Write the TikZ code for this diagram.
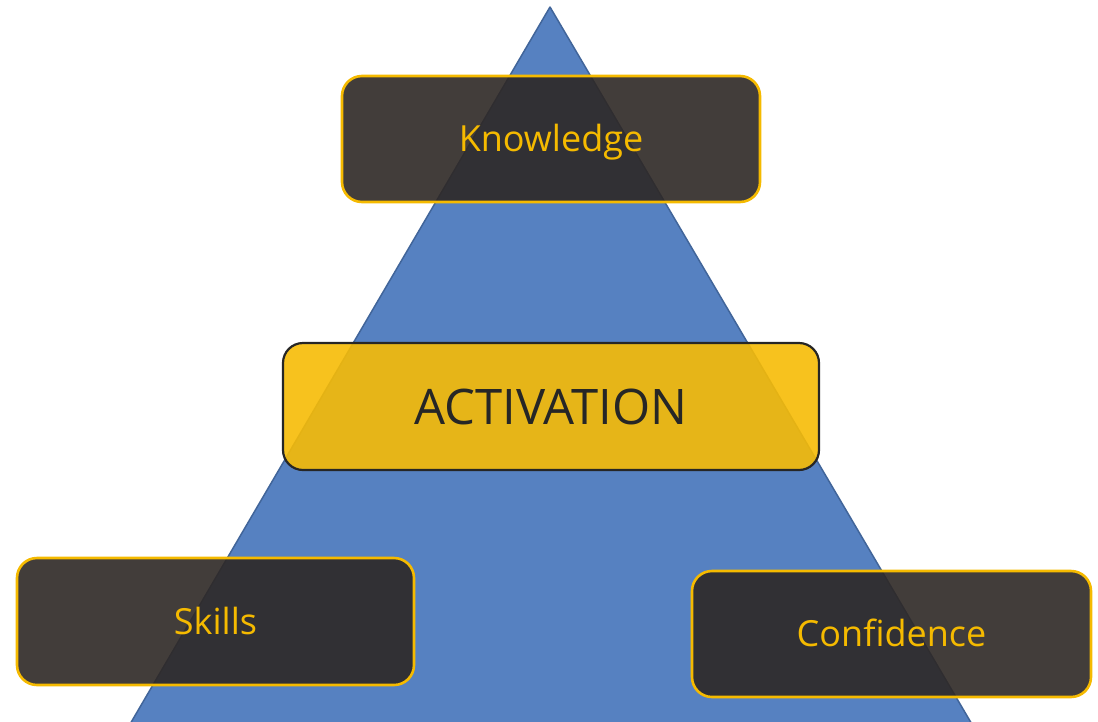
\documentclass[tikz,border=0pt]{standalone}
\usepackage{fontspec}
\setmainfont{Open Sans}
\definecolor{pyrblue}{HTML}{5681C1}
\definecolor{pyredge}{HTML}{41659A}
\definecolor{boxdark}{HTML}{2E2825}
\definecolor{boxgold}{HTML}{F6BB06}
\definecolor{goldtext}{HTML}{F5BA00}
\definecolor{inkdark}{HTML}{262626}
\begin{document}
\begin{tikzpicture}[x=1pt,y=-1pt,
  darkbox/.style={draw=goldtext, line width=2.6pt, fill=boxdark, fill opacity=0.9,
    text opacity=1, rounded corners=20pt, inner sep=0pt, text=goldtext,
    font=\fontsize{36}{42}\selectfont, text height=25.7pt, text depth=0pt},
  keybox/.style={draw=inkdark, line width=2.2pt, fill=boxgold, fill opacity=0.9,
    text opacity=1, rounded corners=20pt, inner sep=0pt, text=inkdark,
    font=\fontsize{49}{58}\selectfont, text height=35pt, text depth=0pt}]
  \useasboundingbox (0,0) rectangle (1098,721);
  \begin{scope}
    \clip (0,0) rectangle (1098,721);
    % pyramid, running off the bottom edge
    \draw[fill=pyrblue, draw=pyredge, line width=1.5pt, line join=round]
      (550,7) -- (993,760) -- (109,760) -- cycle;
  \end{scope}
  \node[darkbox, minimum width=418pt, minimum height=126pt] (knowledge) at (551,139) {Knowledge};
  \node[keybox, minimum width=536pt, minimum height=127pt] (activation) at (551,406.5) {ACTIVATION};
  \node[darkbox, minimum width=397pt, minimum height=127pt] (skills) at (215.5,621.5) {Skills};
  \node[darkbox, minimum width=399pt, minimum height=126pt] (confidence) at (891.5,634) {Confidence};
\end{tikzpicture}
\end{document}
